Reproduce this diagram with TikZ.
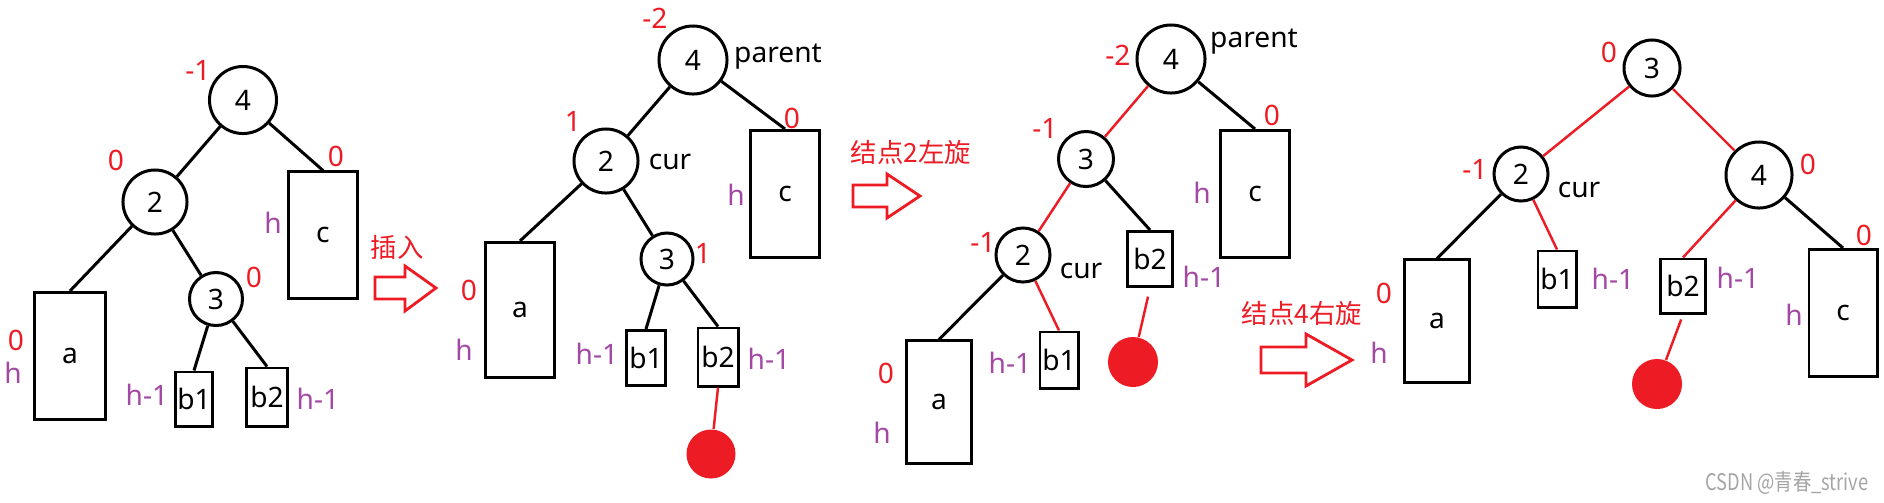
\documentclass[tikz,border=0pt]{standalone}
\usepackage{fontspec}
\setmainfont{Noto Sans}
\newfontfamily\cjk{Noto Sans CJK SC}
\usepackage{xcolor}
\definecolor{avlred}{RGB}{237,28,36}
\definecolor{avlpurple}{RGB}{163,73,164}
\definecolor{avlgray}{RGB}{165,165,165}

\begin{document}
\begin{tikzpicture}[x=0.01cm, y=-0.01cm,
  every node/.style={font=\fontsize{8}{9.6}\selectfont, inner sep=0pt},
  avlnode/.style={circle, draw, line width=0.85pt},
  subtree/.style={rectangle, draw, line width=0.85pt},
  bfnum/.style={text=avlred},
  hnum/.style={text=avlpurple},
  link/.style={line width=0.85pt},
  rlink/.style={avlred, line width=0.7pt},
  newnode/.style={circle, fill=avlred},
  fatarrow/.style={draw=avlred, line width=0.8pt, fill=white},
  rotnote/.style={text=avlred, font=\cjk\fontsize{7.5}{9}\selectfont}]

\useasboundingbox (0,0) rectangle (1884,502);

% --- Panel 1: balanced tree before insertion ---
\node[avlnode, minimum size=0.67cm] (p1n4) at (243,100) {4};
\node[avlnode, minimum size=0.64cm] (p1n2) at (155,202) {2};
\node[avlnode, minimum size=0.53cm] (p1n3) at (216,299) {3};
\node[subtree, minimum width=0.71cm, minimum height=1.27cm] (p1a) at (70,356) {a};
\node[subtree, minimum width=0.68cm, minimum height=1.26cm] (p1c) at (323,235) {c};
\node[subtree, minimum width=0.37cm, minimum height=0.54cm] (p1b1) at (194,399) {b1};
\node[subtree, minimum width=0.40cm, minimum height=0.58cm] (p1b2) at (267,397) {b2};

\draw[link] (p1n4) -- (p1n2);
\draw[link] (p1n4) -- (p1c.north);
\draw[link] (p1n2) -- (p1a.north);
\draw[link] (p1n2) -- (p1n3);
\draw[link] (p1n3) -- (p1b1.north);
\draw[link] (p1n3) -- (p1b2.north);

\node[bfnum] (p1bf4) at (198,70) {-1};
\node[bfnum] (p1bf2) at (116,160) {0};
\node[bfnum] (p1bf3) at (254,277) {0};
\node[bfnum] (p1bfc) at (336,156) {0};
\node[bfnum] (p1bfa) at (16,340) {0};
\node[hnum] (p1ha) at (13,373) {h};
\node[hnum] (p1hc) at (273,223) {h};
\node[hnum] (p1hb1) at (147,395) {h-1};
\node[hnum] (p1hb2) at (318,399) {h-1};

% insertion arrow
\node[rotnote] (insnote) at (397,247) {插入};
\draw[fatarrow] (375,277) -- (405,277) -- (405,266) -- (436,288) -- (405,311)
  -- (405,299) -- (375,299) -- cycle;

% --- Panel 2: after inserting below b2 ---
\node[avlnode, minimum size=0.68cm] (p2n4) at (693,60) {4};
\node[avlnode, minimum size=0.64cm] (p2n2) at (606,161) {2};
\node[avlnode, minimum size=0.52cm] (p2n3) at (667,259) {3};
\node[subtree, minimum width=0.68cm, minimum height=1.35cm] (p2a) at (520,310) {a};
\node[subtree, minimum width=0.68cm, minimum height=1.27cm] (p2c) at (785,194) {c};
\node[subtree, minimum width=0.38cm, minimum height=0.55cm] (p2b1) at (646,358) {b1};
\node[subtree, minimum width=0.40cm, minimum height=0.58cm] (p2b2) at (718,357) {b2};
\node[newnode, minimum size=0.49cm] (p2new) at (711,454) {};

\draw[link] (p2n4) -- (p2n2);
\draw[link] (p2n4) -- (p2c.north);
\draw[link] (p2n2) -- (p2a.north);
\draw[link] (p2n2) -- (p2n3);
\draw[link] (p2n3) -- (p2b1.north);
\draw[link] (p2n3) -- (p2b2.north);
\draw[rlink] (p2b2.south) -- (p2new);

\node[bfnum] (p2bf4) at (655,18) {-2};
\node (p2parent) at (778,57) {parent};
\node[bfnum] (p2bf2) at (573,121) {1};
\node (p2cur) at (670,162) {cur};
\node[bfnum] (p2bf3) at (703,253) {1};
\node[bfnum] (p2bfc) at (792,118) {0};
\node[hnum] (p2hc) at (736,195) {h};
\node[bfnum] (p2bfa) at (469,290) {0};
\node[hnum] (p2ha) at (464,350) {h};
\node[hnum] (p2hb1) at (597,354) {h-1};
\node[hnum] (p2hb2) at (769,359) {h-1};

% left rotation arrow
\node[rotnote] (lrnote) at (911,152) {结点2左旋};
\draw[fatarrow] (853,185) -- (887,185) -- (887,174) -- (920,196) -- (887,218)
  -- (887,207) -- (853,207) -- cycle;

% --- Panel 3: after left rotation at 2 ---
\node[avlnode, minimum size=0.68cm] (p3n4) at (1171,59) {4};
\node[avlnode, minimum size=0.55cm] (p3n3) at (1086,159) {3};
\node[avlnode, minimum size=0.54cm] (p3n2) at (1023,255) {2};
\node[subtree, minimum width=0.65cm, minimum height=1.22cm] (p3a) at (939,402) {a};
\node[subtree, minimum width=0.38cm, minimum height=0.56cm] (p3b1) at (1059,360) {b1};
\node[subtree, minimum width=0.45cm, minimum height=0.55cm] (p3b2) at (1150,259) {b2};
\node[subtree, minimum width=0.68cm, minimum height=1.27cm] (p3c) at (1255,194) {c};
\node[newnode, minimum size=0.50cm] (p3new) at (1133,362) {};

\draw[rlink] (p3n4) -- (p3n3);
\draw[rlink] (p3n3) -- (p3n2);
\draw[rlink] (p3n2) -- (p3b1.north);
\draw[link] (p3n3) -- (p3b2.north);
\draw[link] (p3n2) -- (p3a.north);
\draw[link] (p3n4) -- (p3c.north);
\draw[rlink, shorten <=2.5pt] (p3b2.south) -- (p3new);

\node[bfnum] (p3bf4) at (1118,55) {-2};
\node (p3parent) at (1254,42) {parent};
\node[bfnum] (p3bf3) at (1045,128) {-1};
\node[bfnum] (p3bf2) at (983,242) {-1};
\node (p3cur) at (1081,271) {cur};
\node[hnum] (p3hb2) at (1204,277) {h-1};
\node[hnum] (p3hb1) at (1010,363) {h-1};
\node[bfnum] (p3bfa) at (886,373) {0};
\node[hnum] (p3ha) at (882,433) {h};
\node[bfnum] (p3bfc) at (1272,115) {0};
\node[hnum] (p3hc) at (1202,193) {h};

% right rotation arrow
\node[rotnote] (rrnote) at (1302,313) {结点4右旋};
\draw[fatarrow] (1261,347) -- (1306,347) -- (1306,334) -- (1352,360) -- (1306,386)
  -- (1306,373) -- (1261,373) -- cycle;

% --- Panel 4: after right rotation at 4 ---
\node[avlnode, minimum size=0.56cm] (p4n3) at (1652,68) {3};
\node[avlnode, minimum size=0.54cm] (p4n2) at (1521,174) {2};
\node[avlnode, minimum size=0.66cm] (p4n4) at (1759,175) {4};
\node[subtree, minimum width=0.65cm, minimum height=1.22cm] (p4a) at (1437,321) {a};
\node[subtree, minimum width=0.38cm, minimum height=0.56cm] (p4b1) at (1557,279) {b1};
\node[subtree, minimum width=0.45cm, minimum height=0.54cm] (p4b2) at (1683,286) {b2};
\node[subtree, minimum width=0.68cm, minimum height=1.27cm] (p4c) at (1843,313) {c};
\node[newnode, minimum size=0.50cm] (p4new) at (1657,384) {};

\draw[rlink] (p4n3) -- (p4n2);
\draw[rlink] (p4n3) -- (p4n4);
\draw[rlink] (p4n2) -- (p4b1.north);
\draw[rlink] (p4n4) -- (p4b2.north);
\draw[link] (p4n2) -- (p4a.north);
\draw[link] (p4n4) -- (p4c.north);
\draw[rlink, shorten <=1.5pt] (p4b2.south) -- (p4new);

\node[bfnum] (p4bf3) at (1609,52) {0};
\node[bfnum] (p4bf2) at (1475,169) {-1};
\node (p4cur) at (1579,190) {cur};
\node[bfnum] (p4bf4) at (1808,164) {0};
\node[hnum] (p4hb1) at (1613,279) {h-1};
\node[hnum] (p4hb2) at (1738,278) {h-1};
\node[bfnum] (p4bfa) at (1384,293) {0};
\node[hnum] (p4ha) at (1379,353) {h};
\node[hnum] (p4hc) at (1794,315) {h};
\node[bfnum] (p4bfc) at (1864,235) {0};

% watermark
\node[text=avlgray, font=\cjk\fontsize{6.5}{7.5}\selectfont] (mark) at (1787,483)
  {\scalebox{0.8}[1]{CSDN @青春\_strive}};

\end{tikzpicture}
\end{document}
